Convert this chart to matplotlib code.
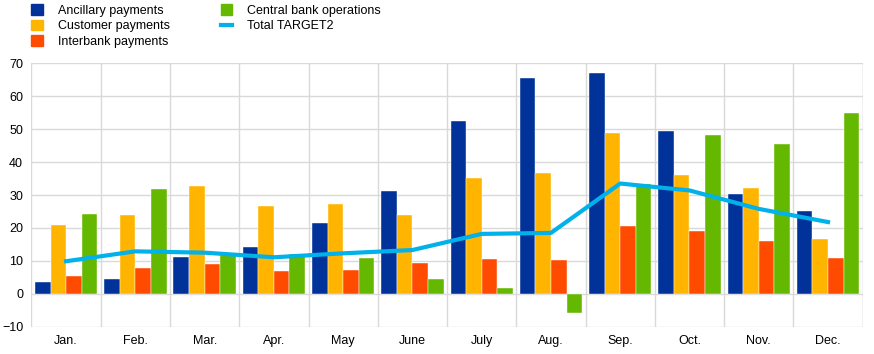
import numpy as np
import matplotlib.pyplot as plt
from matplotlib.patches import Patch
from matplotlib.lines import Line2D

plt.rcParams['font.family'] = ['Liberation Sans', 'DejaVu Sans']

months = ['Jan.', 'Feb.', 'Mar.', 'Apr.', 'May', 'June', 'July', 'Aug.', 'Sep.', 'Oct.', 'Nov.', 'Dec.']
ancillary = [3.5, 4.5, 11.1, 14.1, 21.5, 31.1, 52.5, 65.5, 67.2, 49.6, 30.4, 25.3]
customer = [21.0, 24.0, 32.8, 26.7, 27.2, 23.9, 35.2, 36.7, 48.7, 36.1, 32.1, 16.8]
interbank = [5.5, 7.7, 9.1, 6.9, 7.3, 9.3, 10.6, 10.4, 20.7, 19.1, 16.0, 11.0]
central_bank = [24.3, 31.7, 11.8, 12.0, 10.9, 4.6, 1.9, -5.9, 33.3, 48.1, 45.5, 55.0]
total = [9.9, 12.9, 12.5, 11.1, 12.3, 13.3, 18.2, 18.5, 33.5, 31.4, 25.8, 21.8]

c_blue = '#003299'
c_yellow = '#FFB400'
c_orange = '#FF4B00'
c_green = '#65B800'
c_cyan = '#00B1EA'

fig = plt.figure(figsize=(8.74, 3.54), dpi=100)
ax = fig.add_axes([0.036, 0.077, 0.951, 0.744])

x = np.arange(len(months))
w = 0.225
series = [(ancillary, c_blue), (customer, c_yellow), (interbank, c_orange), (central_bank, c_green)]
for i, (vals, col) in enumerate(series):
    ax.bar(x + (i - 1.5) * w, vals, width=w, color=col, edgecolor='white', linewidth=0.3, zorder=2)
ax.plot(x, total, color=c_cyan, linewidth=3, zorder=3)

ax.set_xlim(-0.5, len(months) - 0.5)
ax.set_ylim(-10, 70)
ax.set_yticks(range(-10, 71, 10))
ax.set_xticks(x)
ax.set_xticklabels(months)
ax.set_xticks(np.arange(-0.5, len(months), 1), minor=True)
ax.grid(True, axis='y', color='#d9d9d9', linewidth=1, zorder=0)
ax.grid(True, axis='x', which='minor', color='#d9d9d9', linewidth=1, zorder=0)
ax.tick_params(axis='both', which='both', length=0, labelsize=9, colors='#000000')
ax.tick_params(axis='x', pad=6)
ax.tick_params(axis='y', pad=6)
for s in ax.spines.values():
    s.set_visible(False)
ax.axvline(len(months) - 0.5, color='#d9d9d9', linewidth=1, zorder=0)

handles = [Patch(color=c_blue), Patch(color=c_yellow), Patch(color=c_orange),
           Patch(color=c_green), Line2D([], [], color=c_cyan, linewidth=3)]
labels = ['Ancillary payments', 'Customer payments', 'Interbank payments',
          'Central bank operations', 'Total TARGET2']
fig.legend(handles, labels, ncol=2, loc='upper left', bbox_to_anchor=(0.023, 1.02),
           frameon=False, fontsize=9, handlelength=0.9, handleheight=0.9,
           handletextpad=1.2, columnspacing=4.1, labelspacing=0.25)

fig.savefig('out.png', dpi=100)
